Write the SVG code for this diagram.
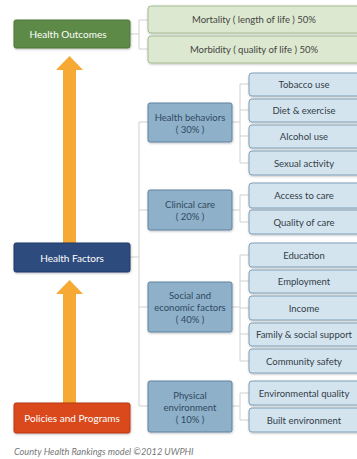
<svg xmlns="http://www.w3.org/2000/svg" width="357" height="459" viewBox="0 0 357 459">
<defs>
<filter id="sh" x="-10%" y="-20%" width="120%" height="150%">
<feDropShadow dx="0.5" dy="1" stdDeviation="0.8" flood-color="#000" flood-opacity="0.25"/>
</filter>
</defs>
<style>
text{font-family:Lato,"Open Sans","Liberation Sans",sans-serif;text-anchor:middle;dominant-baseline:central}
.main{stroke-width:1;filter:url(#sh)}
.wt{fill:#ffffff;font-size:10px}
.out{fill:#dce8cf;stroke:#a3bb8f;stroke-width:1;filter:url(#sh)}
.ot{fill:#444;font-size:9.5px}
.cat{fill:#8eb0c8;stroke:#5f84a3;stroke-width:1;filter:url(#sh)}
.ct{fill:#2e4a63;font-size:9.5px}
.leaf{fill:#d4e4ef;stroke:#7e9fb9;stroke-width:1;filter:url(#sh)}
.lt{fill:#333d47;font-size:9.5px}
.con{stroke:#d0d0d0;stroke-width:1;fill:none}
.arr{fill:#f6a935}
</style>
<g id="connectors">
<path class="con" d="M130 34H139M139 20V49M139 20H148M139 49H148"/>
<path class="con" d="M130 257H139M139 122V406M139 122H148M139 210H148M139 307H148M139 406H148"/>
<path class="con" d="M232 122H240M240 84V163M240 84H249M240 110H249M240 136H249M240 163H249"/>
<path class="con" d="M232 210H240M240 195V222M240 195H249M240 222H249"/>
<path class="con" d="M232 307H240M240 255V361M240 255H249M240 281H249M240 308H249M240 334H249M240 361H249"/>
<path class="con" d="M232 406H240M240 393V420M240 393H249M240 420H249"/>
</g>
<g id="arrow-upper"><path class="arr" d="M63 243V70H56L69.5 56L83 70H76V243Z"/></g>
<g id="arrow-lower"><path class="arr" d="M63 403V294H56L69.5 280L83 294H76V403Z"/></g>
<g id="health-outcomes"><rect class="main" x="14" y="20" width="116" height="28" rx="2" fill="#5d8a46" stroke="#4f763a"/><text class="wt" x="68" y="34">Health Outcomes</text></g>
<g id="mortality"><rect class="out" x="148" y="6" width="215" height="27" rx="3"/><text class="ot" x="254" y="19.5">Mortality ( length of life ) 50%</text></g>
<g id="morbidity"><rect class="out" x="148" y="36" width="215" height="27" rx="3"/><text class="ot" x="254" y="49.5">Morbidity ( quality of life ) 50%</text></g>
<g id="health-factors"><rect class="main" x="14" y="243" width="116" height="29" rx="2" fill="#2d4c7e" stroke="#22396a"/><text class="wt" x="72" y="257.5">Health Factors</text></g>
<g id="policies"><rect class="main" x="14" y="403" width="116" height="30" rx="2" fill="#d9481d" stroke="#b83a14"/><text class="wt" x="72" y="418">Policies and Programs</text></g>
<g id="health-behaviors"><rect class="cat" x="148" y="103" width="84" height="39" rx="2"/><text class="ct" x="190" y="117">Health behaviors</text><text class="ct" x="190" y="129">( 30% )</text></g>
<g id="clinical-care"><rect class="cat" x="148" y="190" width="84" height="40" rx="2"/><text class="ct" x="190" y="204">Clinical care</text><text class="ct" x="190" y="216">( 20% )</text></g>
<g id="social-economic"><rect class="cat" x="148" y="282" width="84" height="50" rx="2"/><text class="ct" x="190" y="295">Social and</text><text class="ct" x="190" y="307">economic factors</text><text class="ct" x="190" y="319">( 40% )</text></g>
<g id="physical-environment"><rect class="cat" x="148" y="381" width="84" height="51" rx="2"/><text class="ct" x="190" y="395">Physical</text><text class="ct" x="190" y="407">environment</text><text class="ct" x="190" y="419">( 10% )</text></g>
<g id="tobacco"><rect class="leaf" x="249" y="73" width="115" height="23" rx="3"/><text class="lt" x="304" y="84.5">Tobacco use</text></g>
<g id="diet"><rect class="leaf" x="249" y="99" width="115" height="23" rx="3"/><text class="lt" x="304" y="110.5">Diet &amp; exercise</text></g>
<g id="alcohol"><rect class="leaf" x="249" y="125" width="115" height="23" rx="3"/><text class="lt" x="304" y="136.5">Alcohol use</text></g>
<g id="sexual"><rect class="leaf" x="249" y="151" width="115" height="24" rx="3"/><text class="lt" x="304" y="163">Sexual activity</text></g>
<g id="access"><rect class="leaf" x="249" y="183" width="115" height="25" rx="3"/><text class="lt" x="304" y="195.5">Access to care</text></g>
<g id="quality"><rect class="leaf" x="249" y="210" width="115" height="24" rx="3"/><text class="lt" x="304" y="222">Quality of care</text></g>
<g id="education"><rect class="leaf" x="249" y="243" width="115" height="24" rx="3"/><text class="lt" x="304" y="255">Education</text></g>
<g id="employment"><rect class="leaf" x="249" y="270" width="115" height="23" rx="3"/><text class="lt" x="304" y="281.5">Employment</text></g>
<g id="income"><rect class="leaf" x="249" y="296" width="115" height="24" rx="3"/><text class="lt" x="304" y="308">Income</text></g>
<g id="family"><rect class="leaf" x="249" y="323" width="115" height="23" rx="3"/><text class="lt" x="304" y="334.5">Family &amp; social support</text></g>
<g id="community"><rect class="leaf" x="249" y="349" width="115" height="24" rx="3"/><text class="lt" x="304" y="361">Community safety</text></g>
<g id="environmental"><rect class="leaf" x="249" y="381" width="115" height="24" rx="3"/><text class="lt" x="304" y="393">Environmental quality</text></g>
<g id="built"><rect class="leaf" x="249" y="408" width="115" height="24" rx="3"/><text class="lt" x="304" y="420">Built environment</text></g>
<text x="14" y="451" style="text-anchor:start;font-size:9.2px;font-style:italic;fill:#777">County Health Rankings model ©2012 UWPHI</text>
</svg>
